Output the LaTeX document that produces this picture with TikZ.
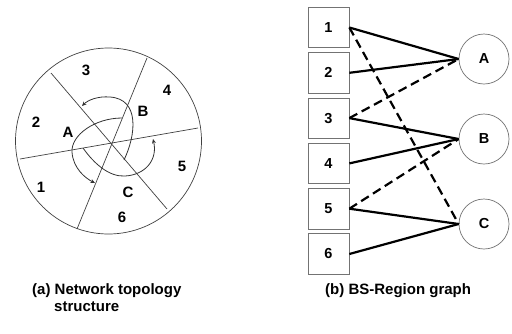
\documentclass[tikz,border=0pt]{standalone}
\usepackage{fontspec}
\setmainfont{Liberation Sans}
\usetikzlibrary{arrows.meta}
\begin{document}
\begin{tikzpicture}[x=1pt,y=-1pt,
  thinln/.style={draw=black!75,line width=0.7pt},
  lbl/.style={font=\fontsize{15}{17}\selectfont\bfseries,inner sep=0pt},
  captxt/.style={font=\fontsize{15}{17}\selectfont\bfseries,inner sep=0pt,anchor=west},
  bsbox/.style={draw=black!55,line width=0.7pt,minimum width=41pt,minimum height=40.5pt,inner sep=0pt,font=\fontsize{14.5}{16}\selectfont\bfseries},
  region/.style={circle,draw=black!55,line width=0.7pt,minimum size=50pt,inner sep=0pt,font=\fontsize{14.5}{16}\selectfont\bfseries},
  solidedge/.style={line width=2.2pt,black},
  dashedge/.style={line width=2.2pt,black,dash pattern=on 9pt off 5pt},
  curvearc/.style={draw=black!80,line width=0.8pt},
  arrowarc/.style={curvearc,-{Stealth[length=4.5pt,width=4pt]}}
]
\useasboundingbox (0,0) rectangle (512,333);
% (a) network topology
\draw[thinln] (108.5,141) circle (93);
\draw[thinln] (20,159) -- (198,128);
\draw[thinln] (51,73) -- (167,209);
\draw[thinln] (147,58) -- (77,229);
\draw[arrowarc] (124,160) .. controls (136,135) and (140,99) .. (110,97) .. controls (98,96) and (88,100) .. (82,106);
\draw[arrowarc] (122,118) .. controls (95,118) and (71,135) .. (72,152) .. controls (73,168) and (85,178) .. (95,183);
\draw[arrowarc] (83,148) .. controls (95,165) and (110,177) .. (125,176) .. controls (145,175) and (158,160) .. (153,139);
\node[lbl] (r3) at (86,70) {3};
\node[lbl] (r4) at (167,90) {4};
\node[lbl] (r2) at (36,122) {2};
\node[lbl] (rA) at (68,132) {A};
\node[lbl] (rB) at (143,111) {B};
\node[lbl] (r5) at (182,166) {5};
\node[lbl] (r1) at (41,187) {1};
\node[lbl] (rC) at (128,192) {C};
\node[lbl] (r6) at (122,217) {6};
% (b) BS-Region graph
\node[bsbox] (b1) at (328.5,27.5) {1};
\node[bsbox] (b2) at (328.5,72.8) {2};
\node[bsbox] (b3) at (328.5,118.1) {3};
\node[bsbox] (b4) at (328.5,163.4) {4};
\node[bsbox] (b5) at (328.5,208.7) {5};
\node[bsbox] (b6) at (328.5,254) {6};
\node[region] (A) at (484,59) {A};
\node[region] (B) at (484,139) {B};
\node[region] (C) at (484,224) {C};
\draw[solidedge] (b1.east) -- (A.west);
\draw[solidedge] (b2.east) -- (A.west);
\draw[dashedge] (b3.east) -- (A.west);
\draw[solidedge] (b3.east) -- (B.west);
\draw[solidedge] (b4.east) -- (B.west);
\draw[dashedge] (b5.east) -- (B.west);
\draw[solidedge] (b5.east) -- (C.west);
\draw[solidedge] (b6.east) -- (C.west);
\draw[dashedge] (b1.east) -- (C.west);
% captions
\node[captxt] (capa1) at (32,291) {(a) Network topology};
\node[captxt] (capa2) at (54,307) {structure};
\node[captxt] (capb) at (325,291) {(b) BS-Region graph};
\end{tikzpicture}
\end{document}
